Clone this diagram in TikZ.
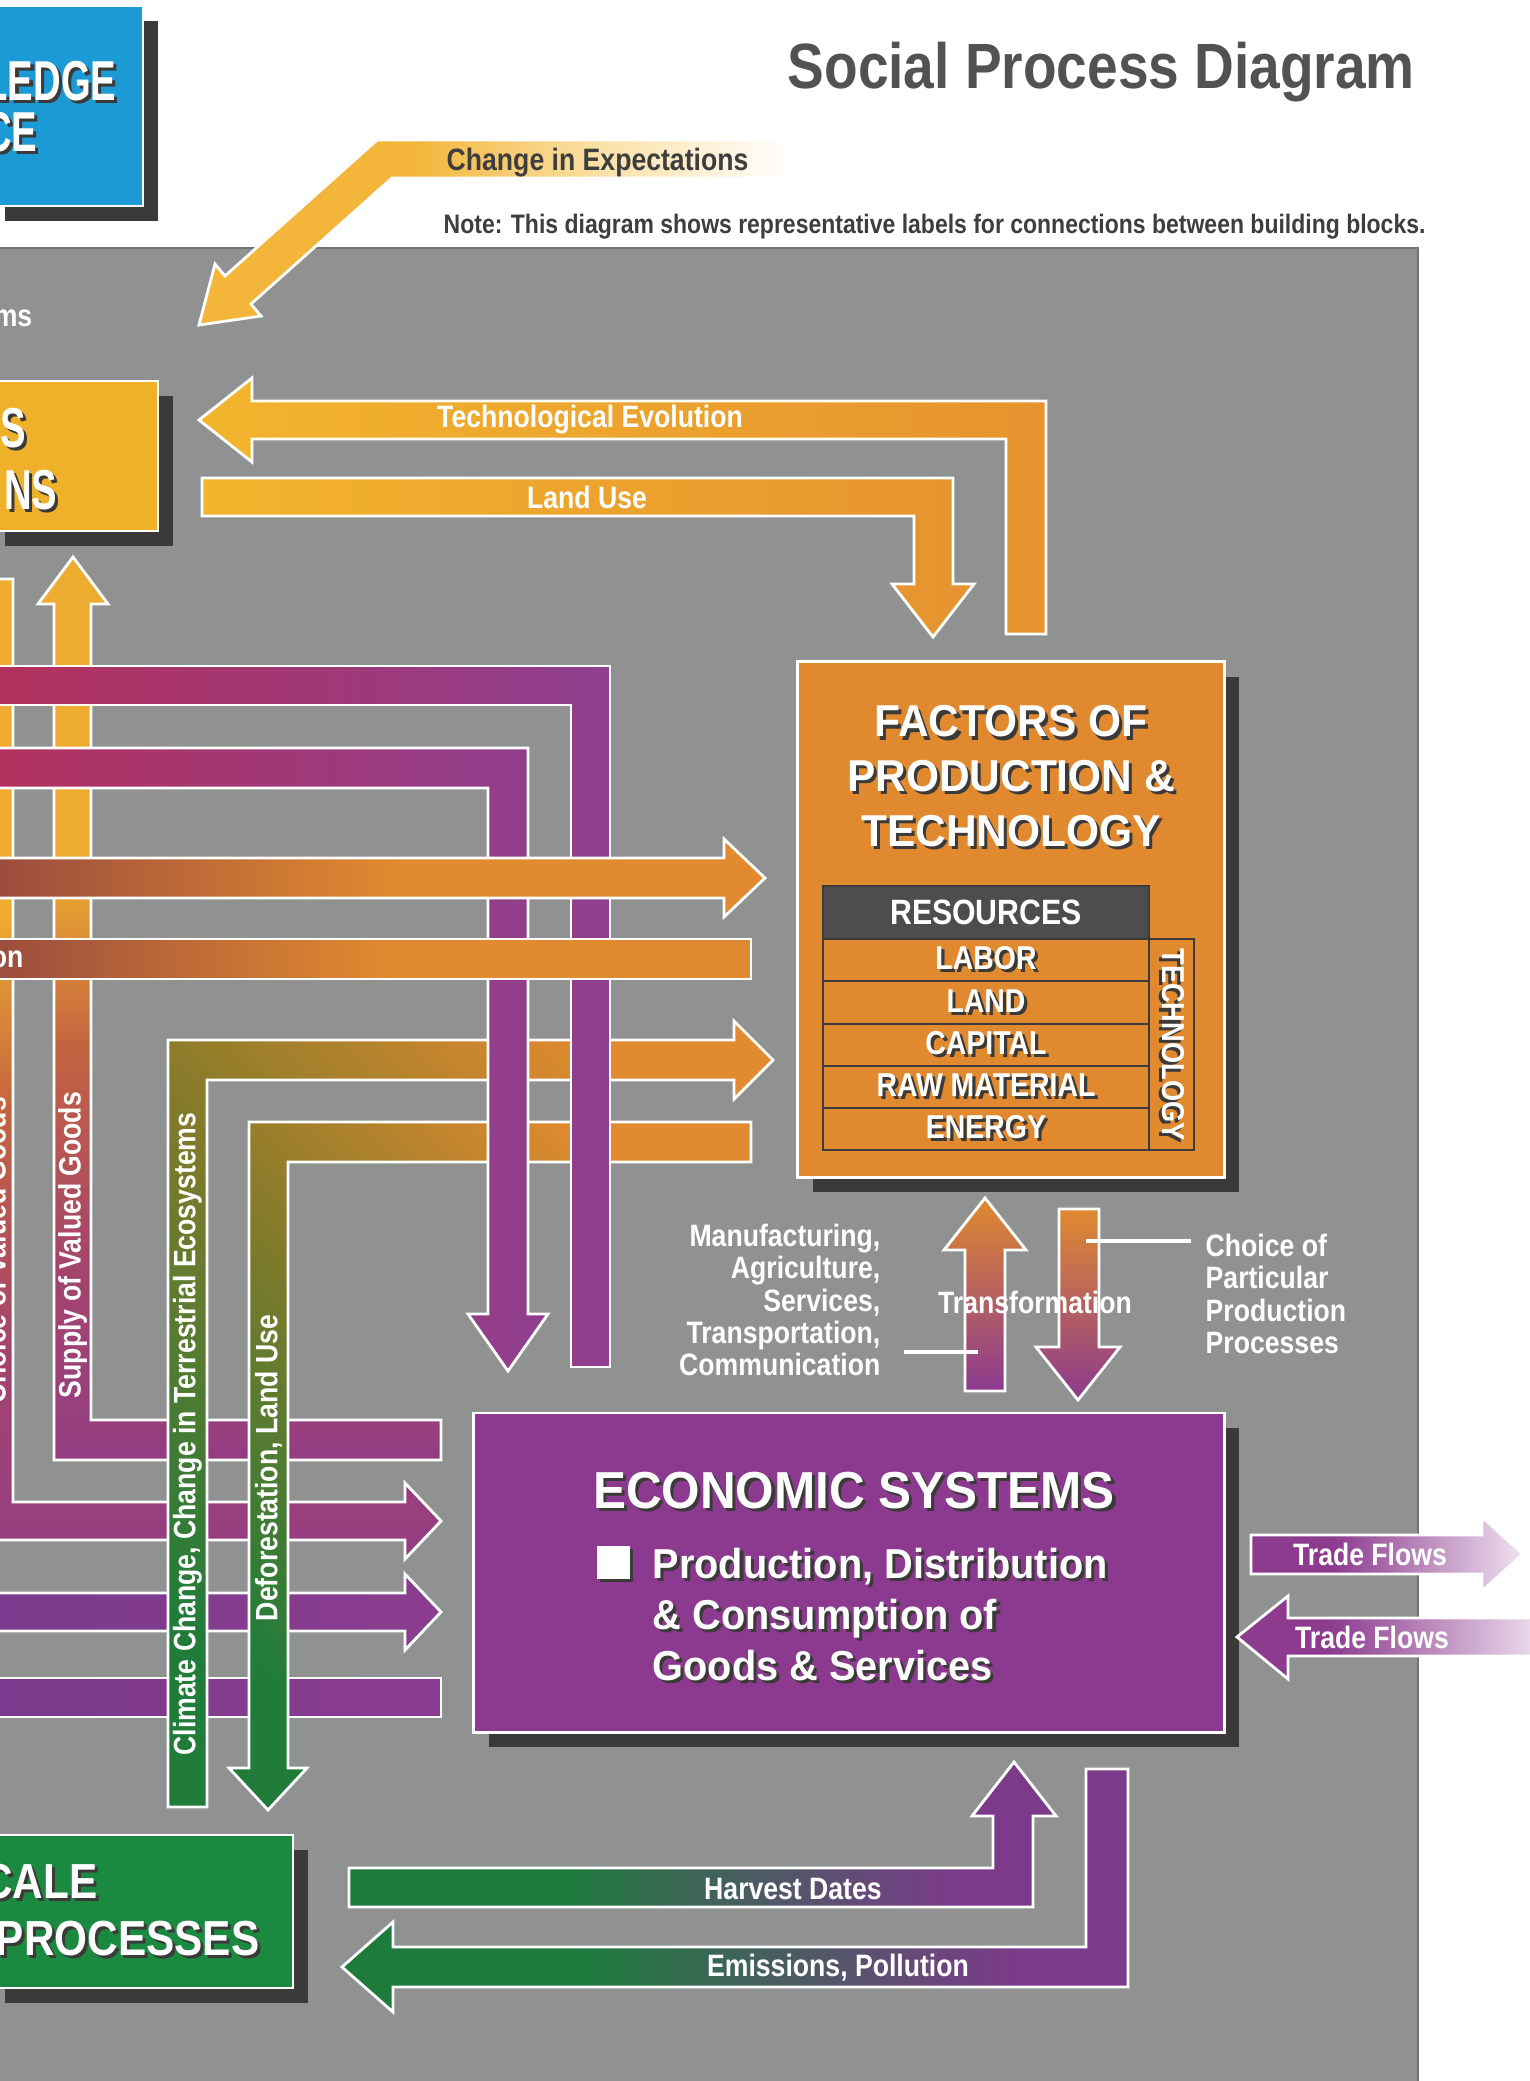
\documentclass[tikz,border=0pt]{standalone}
\usepackage{fontspec}
\setmainfont{Liberation Sans}
\newfontfamily\labelfont{Liberation Sans}[FakeStretch=0.86]
\newfontfamily\boxfont{Liberation Sans}[FakeStretch=0.95]
\newfontfamily\narrowfont{Liberation Sans}[FakeStretch=0.68]
\usetikzlibrary{shadows}

\definecolor{panelgray}{HTML}{8F9291}
\definecolor{shadowc}{HTML}{3B3A38}
\definecolor{titlegray}{HTML}{525252}
\definecolor{notegray}{HTML}{3E3E3E}
\definecolor{blueblk}{HTML}{1C9AD6}
\definecolor{yellowblk}{HTML}{F0B12A}
\definecolor{orangeblk}{HTML}{E0892F}
\definecolor{purpleblk}{HTML}{8C3A8F}
\definecolor{greenblk}{HTML}{1B8A40}
\definecolor{tablegray}{HTML}{4D4D4D}
\definecolor{chgyel}{HTML}{F3B53A}
\definecolor{chgpale}{HTML}{FADFA0}
\definecolor{techyel}{HTML}{F3B52D}
\definecolor{techorg}{HTML}{E6932F}
\definecolor{crimsonc}{HTML}{B4305A}
\definecolor{plumc}{HTML}{8F3F8F}
\definecolor{rustc}{HTML}{96493F}
\definecolor{lightorg}{HTML}{E28A2F}
\definecolor{leafgreen}{HTML}{217C3A}
\definecolor{olivec}{HTML}{807A2A}
\definecolor{vyellow}{HTML}{EEAD30}
\definecolor{vbrown}{HTML}{C4643F}
\definecolor{vmagenta}{HTML}{A5456C}
\definecolor{vpurple}{HTML}{943D83}
\definecolor{lowviolet}{HTML}{7A3A8D}
\definecolor{highviolet}{HTML}{8B3D8F}
\definecolor{tradepur}{HTML}{8C3B8E}
\definecolor{tradepale}{HTML}{EFE2F0}
\definecolor{hgreen}{HTML}{1D7B3C}
\definecolor{hpurple}{HTML}{7B3A8A}

\pgfdeclarehorizontalshading{chgfade}{100bp}{color(0bp)=(chgyel); color(43bp)=(chgyel); color(58bp)=(chgpale); color(75bp)=(white); color(100bp)=(white)}
\pgfdeclarehorizontalshading{rustfade}{100bp}{color(0bp)=(rustc); color(25bp)=(rustc); color(52bp)=(lightorg); color(100bp)=(lightorg)}
\pgfdeclareverticalshading{valued}{100bp}{color(0bp)=(vpurple); color(25bp)=(vpurple); color(36bp)=(vmagenta); color(48bp)=(vbrown); color(58bp)=(vyellow); color(100bp)=(vyellow)}
\pgfdeclarehorizontalshading{tradefade}{100bp}{color(0bp)=(tradepur); color(40bp)=(tradepur); color(75bp)=(tradepale); color(100bp)=(tradepale)}
\pgfdeclarehorizontalshading{greenplum}{100bp}{color(0bp)=(hgreen); color(40bp)=(hgreen); color(68bp)=(hpurple); color(100bp)=(hpurple)}

% white text with a dark drop shadow
\newcommand{\shad}[1]{\leavevmode\rlap{\kern0.9pt\raisebox{-0.9pt}{\color{shadowc}#1}}#1}

\begin{document}
\begin{tikzpicture}[x=0.01cm, y=-0.01cm,
    band/.style={draw=white, line width=0.8pt, line join=miter},
    blockbox/.style={draw=white, line width=0.8pt, inner sep=0pt,
      general shadow={fill=shadowc, shadow xshift=0.15cm, shadow yshift=-0.15cm}},
    lbl/.style={text=white, inner sep=0pt, font=\labelfont\bfseries\fontsize{8.8}{9.2}\selectfont},
    bigfrag/.style={text=white, inner sep=0pt, anchor=east, font=\narrowfont\bfseries\fontsize{16}{18}\selectfont},
    leader/.style={white, line width=0.9pt},
    twotone/.style={bottom color=leafgreen, top color=lightorg, middle color=olivec, shading angle=-45},
    transf/.style={bottom color=purpleblk, top color=orangeblk}]

    \useasboundingbox (0,0) rectangle (1530,2081);
    \clip (0,0) rectangle (1530,2081);
    \fill[white] (0,0) rectangle (1530,2081);

    % panel
    \fill[panelgray] (-5,248) rectangle (1418,2090);
    \draw[black!55, line width=0.6pt] (-5,248) -- (1418,248) -- (1418,2090);

    \node[anchor=base west, inner sep=0pt, text=titlegray, font=\labelfont\bfseries\fontsize{18.2}{20}\selectfont] (title) at (787,88) {Social Process Diagram};
    \node[anchor=base west, inner sep=0pt, text=notegray, font=\labelfont\bfseries\fontsize{7.6}{9}\selectfont] (note) at (443,233) {Note: This diagram shows representative labels for connections between building blocks.};

    % building blocks
    \node[blockbox, fill=blueblk, minimum width=1.53cm, minimum height=2cm] (knowledge) at (66.5,106) {};
    \node[bigfrag] (knowledgea) at (117,83) {\shad{LEDGE}};
    \node[bigfrag] (knowledgeb) at (38,134) {\shad{CE}};

    \node[blockbox, fill=yellowblk, minimum width=1.68cm, minimum height=1.5cm] (institutions) at (74,456) {};
    \node[bigfrag] (institutionsa) at (27,430) {\shad{S}};
    \node[bigfrag] (institutionsb) at (58,492) {\shad{NS}};

    \node[blockbox, fill=greenblk, minimum width=3.03cm, minimum height=1.53cm] (natural) at (141.5,1911.5) {};
    \node[bigfrag, font=\labelfont\bfseries\fontsize{14}{16}\selectfont] (naturala) at (98,1883) {\shad{CALE}};
    \node[bigfrag, font=\labelfont\bfseries\fontsize{14}{16}\selectfont] (naturalb) at (260,1940) {\shad{PROCESSES}};

    \node[blockbox, fill=orangeblk, minimum width=4.26cm, minimum height=5.15cm] (factors) at (1011,919.5) {};
    \node[text=white, inner sep=0pt, align=center, font=\boxfont\bfseries\fontsize{12.7}{15.6}\selectfont] (factorstitle) at (1011,778) {\shad{FACTORS OF}\\\shad{PRODUCTION \&}\\\shad{TECHNOLOGY}};
    \fill[tablegray] (823,886) rectangle (1149,939);
    \draw[shadowc, line width=0.8pt] (823,886) rectangle (1149,1150);
    \foreach \y in {939,981,1024,1066,1108}
        \draw[shadowc, line width=0.8pt] (823,\y) -- (1149,\y);
    \draw[shadowc, line width=0.8pt] (1149,939) rectangle (1194,1150);
    \node[text=white, inner sep=0pt, font=\labelfont\bfseries\fontsize{10}{12}\selectfont] (resources) at (986,912) {RESOURCES};
    \foreach \name/\txt/\y in {labor/LABOR/960, land/LAND/1002.5, capital/CAPITAL/1045, raw/RAW MATERIAL/1087, energy/ENERGY/1129}
        \node[lbl, font=\labelfont\bfseries\fontsize{9.4}{10}\selectfont] (\name) at (986,\y) {\shad{\txt}};
    \node[lbl, rotate=-90, font=\labelfont\bfseries\fontsize{9}{10}\selectfont] (technology) at (1172,1044.5) {\shad{TECHNOLOGY}};

    \node[blockbox, fill=purpleblk, minimum width=7.5cm, minimum height=3.19cm] (economic) at (849,1572.5) {};
    \node[text=white, inner sep=0pt, font=\boxfont\bfseries\fontsize{14.8}{17}\selectfont] (economictitle) at (854,1492) {\shad{ECONOMIC SYSTEMS}};
    \fill[shadowc] (600,1549) rectangle (633,1582);
    \fill[white] (597,1546) rectangle (630,1579);
    \node[text=white, inner sep=0pt, anchor=west, align=left, font=\boxfont\bfseries\fontsize{11.9}{14.4}\selectfont] (economictext) at (652,1616) {\shad{Production, Distribution}\\\shad{\& Consumption of}\\\shad{Goods \& Services}};

    % change in expectations
    \path[band, shade, shading=chgfade] (377,140) -- (790,140) -- (790,178) -- (392,178) -- (251,304) -- (261,316) -- (199,325) -- (215,264) -- (225,276) -- cycle;
    \node[anchor=base west, inner sep=0pt, text=notegray, font=\labelfont\bfseries\fontsize{8.8}{10}\selectfont] (expect) at (446,170) {Change in Expectations};

    % valued goods and lower purple flows
    \path[band, shade, shading=valued] (73,557) -- (108,604) -- (91,604) -- (91,1420) -- (441,1420) -- (441,1460) -- (54,1460) -- (54,604) -- (38,604) -- cycle;
    \path[band, shade, shading=valued] (-24,579) -- (13,579) -- (13,1502) -- (405,1502) -- (405,1483) -- (441,1521) -- (405,1559) -- (405,1540) -- (-24,1540) -- cycle;
    \path[band, left color=lowviolet, right color=highviolet] (-30,1593) -- (405,1593) -- (405,1574) -- (441,1612) -- (405,1650) -- (405,1631) -- (-30,1631) -- cycle;
    \path[band, left color=lowviolet, right color=highviolet] (-30,1678) rectangle (441,1717);

    % climate and deforestation
    \path[band, twotone] (168,1807) -- (168,1040) -- (734,1040) -- (734,1021) -- (773,1060) -- (734,1099) -- (734,1080) -- (207,1080) -- (207,1807) -- cycle;
    \path[band, twotone] (751,1122) -- (751,1162) -- (288,1162) -- (288,1768) -- (307,1768) -- (268,1810) -- (229,1768) -- (249,1768) -- (249,1122) -- cycle;

    % upper purple flows
    \path[band, left color=crimsonc, right color=plumc] (-30,666) -- (610,666) -- (610,1367) -- (571,1367) -- (571,705) -- (-30,705) -- cycle;
    \path[band, left color=crimsonc, right color=plumc] (-30,748) -- (528,748) -- (528,1314) -- (548,1314) -- (508,1371) -- (468,1314) -- (488,1314) -- (488,788) -- (-30,788) -- cycle;

    \path[band, shade, shading=rustfade] (-30,858) -- (724,858) -- (724,839) -- (765,878) -- (724,917) -- (724,898) -- (-30,898) -- cycle;
    \path[band, shade, shading=rustfade] (-30,939) rectangle (751,979);

    % technological evolution, land use
    \path[band, left color=techyel, right color=techorg] (199,420) -- (252,378) -- (252,401) -- (1046,401) -- (1046,634) -- (1006,634) -- (1006,439) -- (252,439) -- (252,462) -- cycle;
    \path[band, left color=techyel, right color=techorg] (202,478) -- (953,478) -- (953,584) -- (974,584) -- (933,637) -- (892,584) -- (914,584) -- (914,516) -- (202,516) -- cycle;

    % transformation
    \path[band, transf] (965,1391) -- (965,1250) -- (944,1250) -- (985,1198) -- (1026,1250) -- (1005,1250) -- (1005,1391) -- cycle;
    \path[band, transf] (1059,1209) -- (1099,1209) -- (1099,1347) -- (1120,1347) -- (1078,1400) -- (1036,1347) -- (1059,1347) -- cycle;

    % harvest, emissions
    \path[band, shade, shading=greenplum] (349,1868) -- (993,1868) -- (993,1816) -- (972,1816) -- (1014,1762) -- (1056,1816) -- (1033,1816) -- (1033,1907) -- (349,1907) -- cycle;
    \path[band, shade, shading=greenplum] (1086,1769) -- (1128,1769) -- (1128,1987) -- (393,1987) -- (393,2012) -- (342,1967) -- (393,1922) -- (393,1947) -- (1086,1947) -- cycle;

    % trade flows
    \path[band, shade, shading=tradefade] (1251,1535) -- (1482,1535) -- (1482,1517) -- (1523,1554) -- (1482,1591) -- (1482,1574) -- (1251,1574) -- cycle;
    \path[band, shade, shading=tradefade] (1237,1637) -- (1288,1596) -- (1288,1618) -- (1545,1618) -- (1545,1656) -- (1288,1656) -- (1288,1679) -- cycle;

    % labels
    \node[lbl, anchor=east] (systemsfrag) at (33,318) {ms};
    \node[lbl] (techevo) at (590,420) {Technological Evolution};
    \node[lbl] (landuse) at (587,497) {Land Use};
    \node[lbl, anchor=east] (onfrag) at (24,959) {on};
    \node[lbl, rotate=90] (supply) at (72.5,1245) {Supply of Valued Goods};
    \node[lbl, rotate=90] (choice) at (-5.5,1250) {Choice of Valued Goods};
    \node[lbl, rotate=90] (climate) at (187.5,1434) {Climate Change, Change in Terrestrial Ecosystems};
    \node[lbl, rotate=90] (defor) at (268.5,1468) {Deforestation, Land Use};
    \node[lbl] (transform) at (1035,1302) {Transformation};
    \node[lbl, anchor=east, align=right] (manuf) at (881,1300) {Manufacturing,\\Agriculture,\\Services,\\Transportation,\\Communication};
    \node[lbl, anchor=west, align=left] (particular) at (1205,1294) {Choice of\\Particular\\Production\\Processes};
    \coordinate (leadla) at (904,1352);
    \coordinate (leadlb) at (978,1352);
    \coordinate (leadra) at (1086,1241);
    \coordinate (leadrb) at (1191,1241);
    \draw[leader] (leadla) -- (leadlb);
    \draw[leader] (leadra) -- (leadrb);
    \node[lbl] (tradeout) at (1370,1554) {Trade Flows};
    \node[lbl] (tradein) at (1372,1637) {Trade Flows};
    \node[lbl] (harvest) at (793,1889) {Harvest Dates};
    \node[lbl] (emissions) at (838,1968) {Emissions, Pollution};
\end{tikzpicture}
\end{document}
